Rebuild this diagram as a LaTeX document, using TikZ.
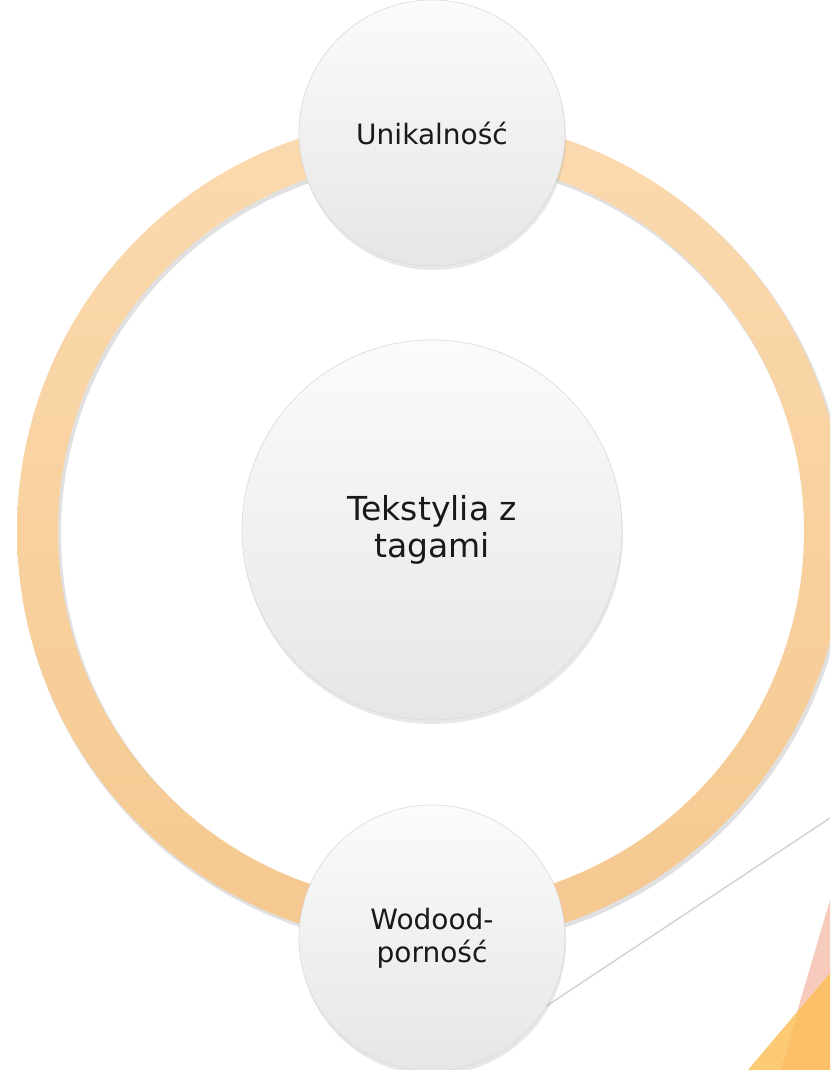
\documentclass[tikz,border=0pt]{standalone}
\usepackage{fontspec}
\setmainfont{DejaVu Sans}
\usetikzlibrary{shadows}

\definecolor{ringtop}{HTML}{FBDAAF}
\definecolor{ringbot}{HTML}{F5C88F}
\definecolor{bubtop}{HTML}{FBFBFB}
\definecolor{bubbot}{HTML}{E6E6E6}
\definecolor{bubedge}{HTML}{DADADA}
\definecolor{decopink}{HTML}{F6CBBE}
\definecolor{decoorange}{HTML}{FCC068}
\definecolor{decolight}{HTML}{FDCA74}
\definecolor{thinline}{HTML}{D3D3D3}

\tikzset{
  bubble/.style={circle, draw=bubedge, line width=0.6pt, top color=bubtop, bottom color=bubbot,
    drop shadow={opacity=0.18, shadow xshift=1pt, shadow yshift=-4pt},
    align=center, text=black!90, inner sep=0pt},
  small/.style={bubble, minimum size=266pt, font=\fontsize{28}{33}\selectfont},
  big/.style={bubble, minimum size=380pt, font=\fontsize{33}{37}\selectfont}
}

\begin{document}
\begin{tikzpicture}[x=1pt,y=1pt]
    \clip (0,0) rectangle (830,1070);
    \fill [white] (0,0) rectangle (830,1070);
    % corner decoration
    \fill [decopink] (830,170)--(797,58)--(830,97)--cycle;
    \fill [decoorange] (797,58)--(830,97)--(830,0)--(780,0)--cycle;
    \fill [decolight] (748,0)--(797,58)--(780,0)--cycle;
    \draw [thinline, line width=1.5pt] (830,252)--(447,-2);
    % ring
    \fill [black, opacity=0.12, even odd rule] (433,536) circle (415) (433,536) circle (372);
    \shade [top color=ringtop, bottom color=ringbot, even odd rule]
      (431,539) circle (414) (431,539) circle (373);
    % bubbles
    \node [small] (uniq) at (432,937) {Unikalność};
    \node [big] (tags) at (432,540) {Tekstylia z\\tagami};
    \node [small] (water) at (432,132) {Wodood-\\porność};
  \end{tikzpicture}
\end{document}
